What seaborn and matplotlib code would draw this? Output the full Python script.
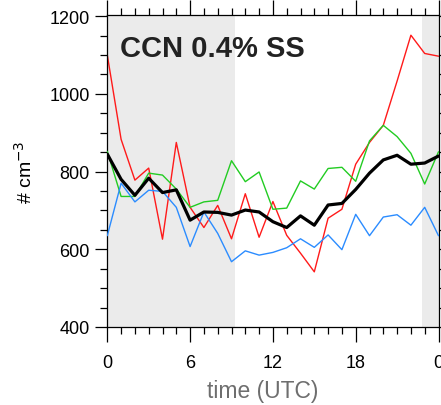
import matplotlib
matplotlib.use('Agg')
import matplotlib.pyplot as plt
import pandas as pd
import seaborn as sns
from matplotlib.ticker import MultipleLocator, FixedLocator

hours = list(range(25))
red = [1100, 883, 778, 809, 626, 875, 708, 656, 713, 627, 743, 631, 723, 636, 590,
       542, 680, 703, 819, 875, 919, 1033, 1151, 1104, 1097]
green = [852, 736, 736, 796, 791, 755, 708, 722, 726, 828, 774, 799, 703, 706, 776,
         755, 808, 811, 775, 879, 919, 890, 847, 768, 851]
blue = [635, 770, 722, 752, 749, 708, 607, 696, 641, 568, 596, 585, 592, 604, 627,
        605, 637, 599, 690, 635, 683, 689, 662, 708, 635]
mean = [845, 780, 739, 783, 746, 753, 675, 696, 695, 688, 701, 696, 671, 656, 686,
        662, 714, 718, 754, 796, 830, 842, 819, 822, 840]
series_names = ['red', 'green', 'blue', 'mean']
xticks = [0, 6, 12, 18, 24]
xticklabels = ['0', '6', '12', '18', '0']
yticks = [400, 600, 800, 1000, 1200]
title_text = 'CCN 0.4% SS'
shade_spans = [(0, 9.25), (22.8, 24)]

sns.set_theme(style='ticks')
plt.rcParams['font.family'] = ['Liberation Sans', 'DejaVu Sans']

df = pd.DataFrame({
    'hour': hours * 4,
    'value': red + green + blue + mean,
    'series': sum([[n] * len(hours) for n in series_names], []),
})

fig = plt.figure(figsize=(4.41, 4.06), dpi=100)
ax = fig.add_axes([107.3 / 441, 1 - 328 / 406, 331.2 / 441, 312 / 406])

for a, b in shade_spans:
    ax.axvspan(a, b, color='#ebebeb', lw=0, zorder=0)

styles = {'red': ('#ff1a1a', 1.0), 'green': ('#22cc22', 1.0),
          'blue': ('#2b8cff', 1.0), 'mean': ('#000000', 2.3)}
for i, name in enumerate(series_names):
    c, lw = styles[name]
    sns.lineplot(data=df[df.series == name], x='hour', y='value', color=c,
                 linewidth=lw, ax=ax, zorder=2 + i, legend=False)

ax.set_xlim(0, 24)
ax.set_ylim(400, 1203)
ax.xaxis.set_major_locator(FixedLocator(xticks))
ax.set_xticklabels(xticklabels)
ax.xaxis.set_minor_locator(MultipleLocator(1))
ax.yaxis.set_major_locator(FixedLocator(yticks))
ax.yaxis.set_minor_locator(MultipleLocator(50))

for s in ax.spines.values():
    s.set_visible(True)
    s.set_color('black')
    s.set_linewidth(0.9)

ax.tick_params(which='both', direction='out', top=True, right=True,
               labeltop=False, labelright=False, color='black', width=0.9,
               labelsize=13, labelcolor='black')
ax.tick_params(axis='x', which='major', length=10.8, pad=9)
ax.tick_params(axis='x', which='minor', length=5)
ax.tick_params(axis='y', which='major', length=8.6, pad=4)
ax.tick_params(axis='y', which='minor', length=5)

ax.set_xlabel('time (UTC)', fontsize=16.5, color='#6e6e6e')
ax.xaxis.set_label_coords(0.47, -0.168)
ax.set_ylabel('# cm$^{-3}$', fontsize=14, color='black')
ax.yaxis.set_label_coords(-0.215, 0.5)

ax.text(0.038, 0.869, title_text, transform=ax.transAxes, fontsize=21,
        fontweight='bold', color='#222222', ha='left', va='baseline', zorder=10)

fig.savefig('out.png', dpi=100)
